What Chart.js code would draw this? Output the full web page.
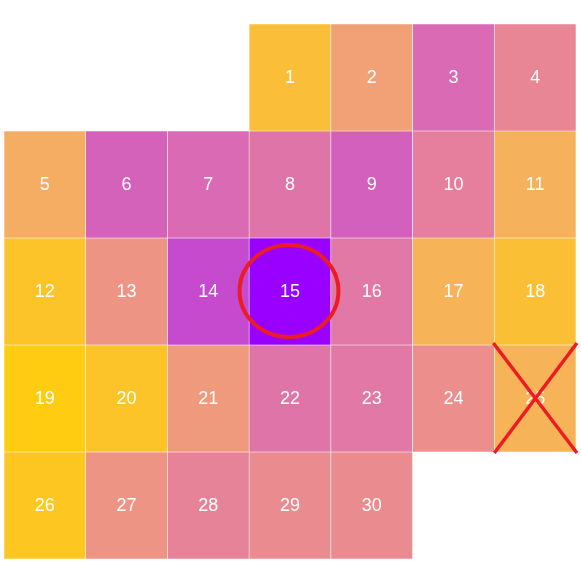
<!DOCTYPE html>
<html>
<head>
<meta charset="utf-8">
<script src="https://cdn.jsdelivr.net/npm/chart.js@4"></script>
<style>
  html, body { margin: 0; padding: 0; background: #fff; }
  #wrap { width: 581px; height: 576px; }
</style>
</head>
<body>
<div id="wrap"><canvas id="calChart"></canvas></div>
<script>
// calendar layout
const weekdays = ["Sun", "Mon", "Tue", "Wed", "Thu", "Fri", "Sat"];
const firstWeekday = 3; // day 1 falls on Wed
const days = [1, 2, 3, 4, 5, 6, 7, 8, 9, 10, 11, 12, 13, 14, 15,
  16, 17, 18, 19, 20, 21, 22, 23, 24, 25, 26, 27, 28, 29, 30];
// value per day, 0..100
const dayValues = [10, 31, 70, 50, 22, 76, 70, 63, 77, 55, 19, 6, 39, 84, 100,
  60, 18, 9, 0, 6, 35, 63, 60, 44, 18, 4, 39, 52, 46, 46];
const circledDays = [15];
const crossedDays = [25];

// colour scale, yellow -> orange -> pink -> purple
const colorStops = [
  [0, [255, 204, 17]],
  [20, [246, 176, 96]],
  [40, [238, 147, 134]],
  [60, [226, 120, 165]],
  [80, [208, 92, 192]],
  [100, [153, 0, 255]]
];

function colorFor(v) {
  for (let i = 1; i < colorStops.length; i++) {
    const [v1, c1] = colorStops[i];
    const [v0, c0] = colorStops[i - 1];
    if (v <= v1) {
      const t = (v - v0) / (v1 - v0);
      const c = c0.map((a, k) => Math.round(a + (c1[k] - a) * t));
      return `rgb(${c[0]},${c[1]},${c[2]})`;
    }
  }
  return "rgb(153,0,255)";
}

const weekCount = Math.ceil((firstWeekday + days.length) / 7);
const datasets = [];
for (let w = 0; w < weekCount; w++) {
  const pts = [];
  const cols = [];
  days.forEach((d, i) => {
    const slot = firstWeekday + i;
    if (Math.floor(slot / 7) === w) {
      pts.push({ x: weekdays[slot % 7], y: [w, w + 1], day: d, v: dayValues[i] });
      cols.push(colorFor(dayValues[i]));
    }
  });
  datasets.push({
    data: pts,
    backgroundColor: cols,
    borderColor: "rgba(255,255,255,0.75)",
    borderWidth: 0.6,
    borderSkipped: false,
    grouped: false,
    barPercentage: 1,
    categoryPercentage: 1
  });
}

const dayLabels = {
  id: "dayLabels",
  afterDatasetsDraw(chart) {
    const ctx = chart.ctx;
    ctx.save();
    ctx.fillStyle = "#fff";
    ctx.font = '18px "Liberation Sans", Arial, sans-serif';
    ctx.textAlign = "center";
    ctx.textBaseline = "middle";
    chart.data.datasets.forEach((ds, i) => {
      chart.getDatasetMeta(i).data.forEach((el, j) => {
        const p = el.getCenterPoint();
        ctx.fillText(String(ds.data[j].day), p.x, p.y + 1);
      });
    });
    ctx.restore();
  }
};

const marks = {
  id: "marks",
  afterDraw(chart) {
    const ctx = chart.ctx;
    ctx.save();
    ctx.strokeStyle = "#ec1c24";
    chart.data.datasets.forEach((ds, i) => {
      chart.getDatasetMeta(i).data.forEach((el, j) => {
        const d = ds.data[j].day;
        const { x, y, base, width } = el.getProps(["x", "y", "base", "width"], true);
        const top = Math.min(y, base), bottom = Math.max(y, base);
        const h = bottom - top;
        if (circledDays.includes(d)) {
          ctx.lineWidth = 4;
          ctx.beginPath();
          ctx.ellipse(x - 1, top + h / 2 - 0.5, width * 0.605, h * 0.43, 0, 0, Math.PI * 2);
          ctx.stroke();
        }
        if (crossedDays.includes(d)) {
          ctx.lineWidth = 3.5;
          ctx.beginPath();
          ctx.moveTo(x - width / 2 - 1, top - 2);
          ctx.lineTo(x + width / 2 + 1, bottom + 1);
          ctx.moveTo(x + width / 2 + 1, top - 2);
          ctx.lineTo(x - width / 2 + 0, bottom + 1);
          ctx.stroke();
        }
      });
    });
    ctx.restore();
  }
};

new Chart(document.getElementById("calChart"), {
  type: "bar",
  data: { labels: weekdays, datasets: datasets },
  options: {
    responsive: true,
    maintainAspectRatio: false,
    animation: false,
    layout: { padding: { top: 24, right: 5, bottom: 17, left: 4 } },
    scales: {
      x: { type: "category", display: false, offset: true, grid: { display: false } },
      y: { type: "linear", display: false, min: 0, max: weekCount, reverse: true }
    },
    plugins: {
      legend: { display: false },
      tooltip: { enabled: false }
    }
  },
  plugins: [dayLabels, marks]
});
</script>
</body>
</html>
